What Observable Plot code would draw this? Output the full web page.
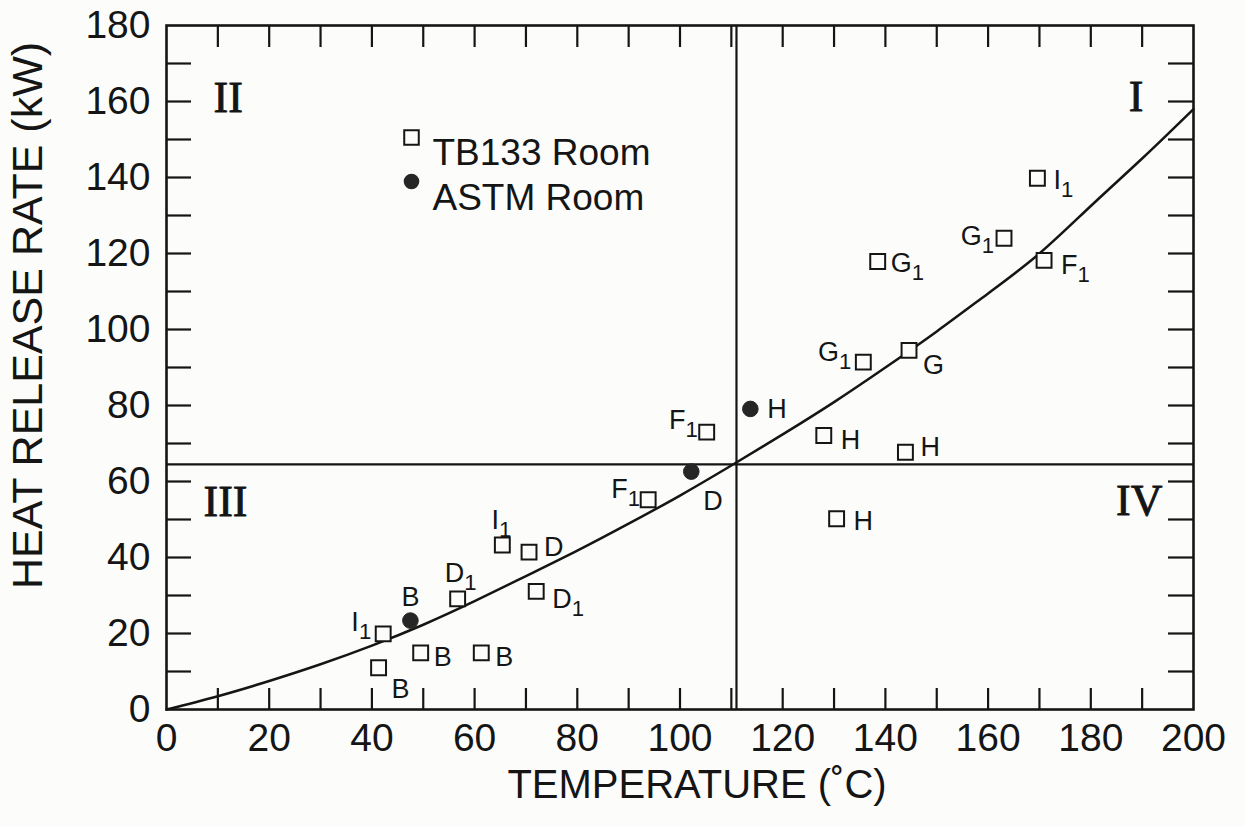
<!DOCTYPE html>
<html>
<head>
<meta charset="utf-8">
<script src="https://cdn.jsdelivr.net/npm/d3@7"></script>
<script src="https://cdn.jsdelivr.net/npm/@observablehq/plot@0.6"></script>
<style>
  html, body { margin: 0; padding: 0; background: #fcfdfb; }
  #chart svg { display: block; }
</style>
</head>
<body>
<div id="chart"></div>
<script>
// TB133 room tests: temperature (°C), heat release rate (kW), specimen id
const tbTemp = [42.2, 41.3, 49.5, 61.3, 56.7, 65.4, 70.6, 72.0, 93.8, 105.2, 128.0, 143.9, 130.5, 135.7, 144.6, 138.5, 163.1, 170.9, 169.6];
const tbHrr  = [19.9, 11.0, 14.9, 14.9, 29.1, 43.3, 41.4, 31.1, 55.2, 73.0, 72.1, 67.7, 50.2, 91.4, 94.5, 117.9, 124.0, 118.2, 139.8];
const tbId   = ["I1", "B", "B", "B", "D1", "I1", "D", "D1", "F1", "F1", "H", "H", "H", "G1", "G", "G1", "G1", "F1", "I1"];

// ASTM room tests
const astmTemp = [47.5, 102.2, 113.7];
const astmHrr  = [23.4, 62.6, 79.1];
const astmId   = ["B", "D", "H"];

// Correlation curve between the two measures
const curveTemp = [0, 10, 20, 30, 40, 50, 60, 70, 80, 90, 100, 110, 120, 130, 140, 150, 160, 170, 180, 190, 200];
const curveHrr  = [0, 3.5, 7.5, 11.9, 16.8, 22.3, 28.5, 35.1, 41.8, 48.9, 56.3, 64.2, 72.4, 80.9, 90.0, 99.5, 109.5, 120.0, 132.5, 145.0, 158.0];

// Quadrant dividers
const splitTemp = [111];
const splitHrr  = [64.5];

// Axis ticks
const tempTickLabels = [0, 20, 40, 60, 80, 100, 120, 140, 160, 180, 200];
const hrrTickLabels  = [0, 20, 40, 60, 80, 100, 120, 140, 160, 180];
const tempMinorTicks = [10, 20, 30, 40, 50, 60, 70, 80, 90, 100, 110, 120, 130, 140, 150, 160, 170, 180, 190];
const hrrMinorTicks  = [10, 20, 30, 40, 50, 60, 70, 80, 90, 100, 110, 120, 130, 140, 150, 160, 170];

// Label placement for each test id: [text-anchor, dx, dy]
const tbLabelPlace = [
  ["end", -12, -12], ["start", 13, 22], ["start", 13, 4], ["start", 14, 4],
  ["middle", 3, -26], ["middle", -1, -25], ["start", 15, -5], ["start", 16, 8],
  ["end", -8, -10], ["end", -9, -12], ["start", 17, 5], ["start", 15, -5],
  ["start", 17, 3], ["end", -12, -10], ["start", 14, 15], ["start", 13, 2],
  ["end", -10, -2], ["start", 17, 5], ["start", 16, 2]
];
const astmLabelPlace = [["middle", 0, -23], ["start", 12, 30], ["start", 17, 0]];

const W = 1245, H = 826;
const mL = 166, mR = 52, mT = 25, mB = 117;
const frameW = W - mL - mR, frameH = H - mT - mB;
const ink = "#151515";

const tb = tbTemp.map((t, i) => ({temp: t, hrr: tbHrr[i], id: tbId[i]}));
const astm = astmTemp.map((t, i) => ({temp: t, hrr: astmHrr[i], id: astmId[i]}));
const curve = curveTemp.map((t, i) => ({temp: t, hrr: curveHrr[i]}));

const labelMarks = [];
tb.forEach((d, i) => {
  const [anchor, dx, dy] = tbLabelPlace[i];
  labelMarks.push(Plot.text([d], {x: "temp", y: "hrr", text: "id", textAnchor: anchor, dx, dy,
    fontSize: 27, fill: ink}));
});
astm.forEach((d, i) => {
  const [anchor, dx, dy] = astmLabelPlace[i];
  labelMarks.push(Plot.text([d], {x: "temp", y: "hrr", text: "id", textAnchor: anchor, dx, dy,
    fontSize: 27, fill: ink}));
});

const serif = "'Liberation Serif', 'Times New Roman', serif";
const quadrant = (txt, frameAnchor, textAnchor, dx, dy) =>
  Plot.text([txt], {text: d => d, frameAnchor, textAnchor, dx, dy, fontSize: 44,
    fontFamily: serif, fill: ink, stroke: ink, strokeWidth: 0.9});

const chart = Plot.plot({
  width: W, height: H,
  marginLeft: mL, marginRight: mR, marginTop: mT, marginBottom: mB,
  style: {background: "transparent", fontFamily: "'Liberation Sans', Arial, sans-serif", color: ink},
  x: {domain: [0, 200]},
  y: {domain: [0, 180]},
  marks: [
    // inward tick marks on all four sides
    Plot.tickX(tempMinorTicks, {x: d => d, insetTop: frameH - 21, stroke: ink, strokeWidth: 2.2}),
    Plot.tickX(tempMinorTicks, {x: d => d, insetBottom: frameH - 22, stroke: ink, strokeWidth: 2.2}),
    Plot.tickY(hrrMinorTicks, {y: d => d, insetRight: frameW - 25, stroke: ink, strokeWidth: 2.2}),
    Plot.tickY(hrrMinorTicks, {y: d => d, insetLeft: frameW - 25, stroke: ink, strokeWidth: 2.2}),
    Plot.axisX(tempTickLabels, {anchor: "bottom", tickSize: 0, tickPadding: 14, fontSize: 39, label: null}),
    Plot.axisY(hrrTickLabels, {anchor: "left", tickSize: 0, tickPadding: 16, fontSize: 39, label: null}),
    Plot.ruleX(splitTemp, {x: d => d, stroke: ink, strokeWidth: 2.2}),
    Plot.ruleY(splitHrr, {y: d => d, stroke: ink, strokeWidth: 2.2}),
    Plot.frame({stroke: ink, strokeWidth: 2.6}),
    Plot.line(curve, {x: "temp", y: "hrr", curve: "natural", stroke: ink, strokeWidth: 2.5}),
    Plot.dot(tb, {x: "temp", y: "hrr", symbol: "square", r: 8.4, fill: "#fcfdfb", stroke: ink, strokeWidth: 2}),
    Plot.dot(astm, {x: "temp", y: "hrr", r: 7.8, fill: "#262626", stroke: "#262626", strokeWidth: 1}),
    ...labelMarks,
    // quadrant numerals
    quadrant("II", "top-left", "start", 47, 55),
    quadrant("I", "top-right", "end", -50, 54),
    quadrant("III", "left", "start", 37, 134),
    quadrant("IV", "right", "end", -31, 133),
    // legend
    Plot.dot([0], {frameAnchor: "top-left", dx: 245, dy: 112, symbol: "square", r: 8.2, fill: "#fcfdfb", stroke: ink, strokeWidth: 2}),
    Plot.dot([0], {frameAnchor: "top-left", dx: 245, dy: 156, r: 7.8, fill: "#262626"}),
    Plot.text(["TB133 Room"], {text: d => d, frameAnchor: "top-left", textAnchor: "start", dx: 266, dy: 113, fontSize: 37, fill: ink}),
    Plot.text(["ASTM Room"], {text: d => d, frameAnchor: "top-left", textAnchor: "start", dx: 266, dy: 158, fontSize: 37, fill: ink}),
    // axis titles
    Plot.text(["TEMPERATURE (˚C)"], {text: d => d, frameAnchor: "bottom", textAnchor: "middle", dx: 17, dy: 88, fontSize: 40, fill: ink}),
    Plot.text(["HEAT RELEASE RATE (kW)"], {text: d => d, frameAnchor: "left", textAnchor: "middle", rotate: -90, dx: -138, dy: -52, fontSize: 43, fill: ink})
  ]
});

// Render the trailing "1" of specimen ids (I1, D1, F1, G1) as a subscript
chart.querySelectorAll("text").forEach(t => {
  const s = t.textContent;
  if (/^[A-Z]1$/.test(s)) {
    t.textContent = s.slice(0, -1);
    const sub = document.createElementNS("http://www.w3.org/2000/svg", "tspan");
    sub.setAttribute("dy", "0.36em");
    sub.setAttribute("font-size", "0.82em");
    sub.textContent = "1";
    t.appendChild(sub);
  }
});

document.getElementById("chart").appendChild(chart);
</script>
</body>
</html>
